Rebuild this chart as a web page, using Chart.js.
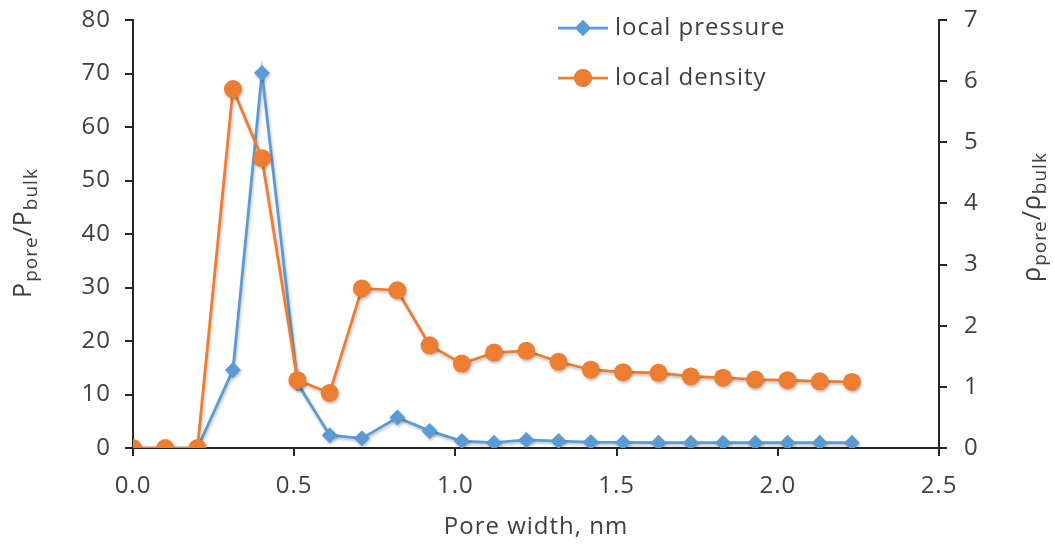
<!DOCTYPE html>
<html>
<head>
<meta charset="utf-8">
<script src="https://cdn.jsdelivr.net/npm/chart.js@4.4.1/dist/chart.umd.min.js"></script>
<style>
  html, body { margin: 0; padding: 0; background: #fff; }
</style>
</head>
<body>
<canvas id="chart" width="1055" height="550"></canvas>
<script>
// Dane
const poreWidth = [0, 0.10, 0.20, 0.31, 0.40, 0.51, 0.61, 0.71, 0.82, 0.92, 1.02, 1.12, 1.22, 1.32, 1.42, 1.52, 1.63, 1.73, 1.83, 1.93, 2.03, 2.13, 2.23];
const localPressure = [0, 0, 0, 14.6, 70.1, 12.1, 2.4, 1.8, 5.7, 3.2, 1.3, 1.0, 1.5, 1.3, 1.1, 1.05, 1.0, 1.0, 1.0, 1.0, 1.0, 1.0, 1.0];
const localDensity = [0, 0, 0, 5.87, 4.74, 1.11, 0.9, 2.61, 2.58, 1.68, 1.38, 1.56, 1.59, 1.41, 1.28, 1.24, 1.23, 1.17, 1.15, 1.12, 1.11, 1.09, 1.08];
const seriesNames = ['local pressure', 'local density'];
const xTitle = 'Pore width, nm';
const leftTitle = [['P', false], ['pore', true], ['/P', false], ['bulk', true]];
const rightTitle = [['\u03C1', false], ['pore', true], ['/\u03C1', false], ['bulk', true]];

const BLUE = '#5B9BD5';
const ORANGE = '#ED7D31';
const TEXT = '#404040';
const AXIS = '#262626';
const FONT = '"Open Sans", sans-serif';

// Zamiana tablic na punkty {x, y}
function toPoints(xs, ys) {
    return xs.map((x, i) => ({ x: x, y: ys[i] }));
}

// Tekst z indeksami dolnymi, obrócony o -90 stopni
function drawSubTitle(ctx, parts, cx, cy, size) {
    ctx.save();
    ctx.translate(cx, cy);
    ctx.rotate(-Math.PI / 2);
    ctx.fillStyle = TEXT;
    ctx.textBaseline = 'alphabetic';
    ctx.textAlign = 'left';
    const subSize = Math.round(size * 0.75);
    let total = 0;
    parts.forEach(([t, sub]) => {
        ctx.font = `${sub ? subSize : size}px ${FONT}`;
        total += ctx.measureText(t).width;
    });
    let x = -total / 2;
    parts.forEach(([t, sub]) => {
        ctx.font = `${sub ? subSize : size}px ${FONT}`;
        ctx.fillText(t, x, sub ? 6 : 0);
        x += ctx.measureText(t).width;
    });
    ctx.restore();
}

// Legenda z linią i znacznikiem
function drawLegendItem(ctx, y, color, style, label) {
    ctx.save();
    ctx.strokeStyle = color;
    ctx.lineWidth = 2.75;
    ctx.beginPath();
    ctx.moveTo(558, y);
    ctx.lineTo(608, y);
    ctx.stroke();
    ctx.fillStyle = color;
    Chart.helpers.drawPoint(ctx, { pointStyle: style, radius: style === 'circle' ? 9 : 8, rotation: 0, borderWidth: 0 }, 583, y);
    ctx.fill();
    ctx.fillStyle = TEXT;
    ctx.font = `24px ${FONT}`;
    ctx.textBaseline = 'middle';
    ctx.textAlign = 'left';
    ctx.fillText(label, 615, y);
    ctx.restore();
}

const decorPlugin = {
    id: 'decor',
    beforeDraw(chart) {
        chart.ctx.letterSpacing = '1px';
    },
    beforeDatasetsDraw(chart) {
        const ctx = chart.ctx;
        ctx.save();
        ctx.shadowColor = 'rgba(0, 0, 0, 0.25)';
        ctx.shadowBlur = 3;
        ctx.shadowOffsetX = 1;
        ctx.shadowOffsetY = 2;
    },
    afterDatasetsDraw(chart) {
        chart.ctx.restore();
    },
    afterDraw(chart) {
        const ctx = chart.ctx;
        const area = chart.chartArea;
        ctx.save();
        ctx.fillStyle = TEXT;
        ctx.font = `24px ${FONT}`;
        ctx.textAlign = 'center';
        ctx.textBaseline = 'middle';
        ctx.fillText(xTitle, (area.left + area.right) / 2, 527);
        ctx.restore();
        drawSubTitle(ctx, leftTitle, 31, 233, 25);
        drawSubTitle(ctx, rightTitle, 1040, 217, 25);
        drawLegendItem(ctx, 28, BLUE, 'rectRot', seriesNames[0]);
        drawLegendItem(ctx, 78, ORANGE, 'circle', seriesNames[1]);
    }
};

function axisGrid() {
    return { drawOnChartArea: false, drawTicks: true, tickLength: 8, color: AXIS, lineWidth: 2 };
}

// Stała szerokość osi pionowej, bez dodatkowego marginesu od etykiet
function fixWidth(w) {
    return s => {
        s.width = w;
        s.paddingTop = 0;
        s.paddingBottom = 0;
    };
}

new Chart(document.getElementById('chart').getContext('2d'), {
    type: 'line',
    data: {
        datasets: [{
            label: seriesNames[0],
            data: toPoints(poreWidth, localPressure),
            yAxisID: 'y',
            borderColor: BLUE,
            backgroundColor: BLUE,
            borderWidth: 2.75,
            pointStyle: 'rectRot',
            pointRadius: 8,
            pointBorderWidth: 0,
            tension: 0,
            order: 2
        }, {
            label: seriesNames[1],
            data: toPoints(poreWidth, localDensity),
            yAxisID: 'y2',
            borderColor: ORANGE,
            backgroundColor: ORANGE,
            borderWidth: 2.75,
            pointStyle: 'circle',
            pointRadius: 9,
            pointBorderWidth: 0,
            tension: 0,
            order: 1
        }]
    },
    options: {
        responsive: false,
        devicePixelRatio: 1,
        animation: false,
        layout: { padding: { top: 20, left: 0, right: 0, bottom: 0 }, autoPadding: false },
        plugins: { legend: { display: false }, tooltip: { enabled: false } },
        scales: {
            x: {
                type: 'linear',
                min: 0, max: 2.5,
                grid: axisGrid(),
                border: { color: AXIS, width: 2 },
                ticks: { stepSize: 0.5, padding: 16, color: TEXT, font: { family: FONT, size: 24 }, callback: v => v.toFixed(1) },
                afterFit: s => { s.height = 102; s.paddingLeft = 0; s.paddingRight = 0; }
            },
            y: {
                position: 'left',
                min: 0, max: 80,
                grid: axisGrid(),
                border: { color: AXIS, width: 2 },
                ticks: { stepSize: 10, padding: 14, color: TEXT, font: { family: FONT, size: 24 } },
                afterFit: fixWidth(133)
            },
            y2: {
                position: 'right',
                min: 0, max: 7,
                grid: axisGrid(),
                border: { color: AXIS, width: 2 },
                ticks: { stepSize: 1, padding: 17, color: TEXT, font: { family: FONT, size: 24 } },
                afterFit: fixWidth(116)
            }
        }
    },
    plugins: [decorPlugin]
});
</script>
</body>
</html>
